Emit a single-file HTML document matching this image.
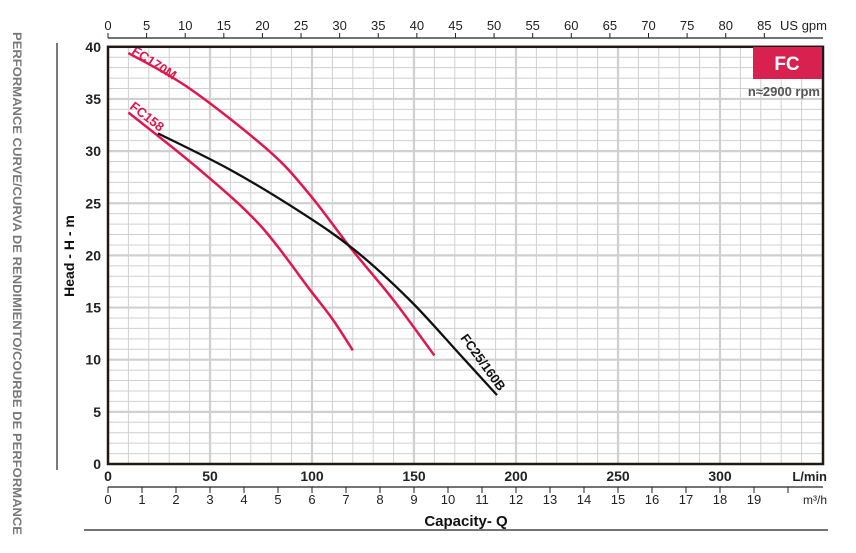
<!DOCTYPE html>
<html><head><meta charset="utf-8"><style>
html,body{margin:0;padding:0;background:#fff;}
svg{display:block;font-family:"Liberation Sans",sans-serif;}
</style></head><body>
<svg id="chart" width="856" height="553" viewBox="0 0 856 553">
<g id="grid"></g>
<g id="curves"></g>
<g id="axes"></g>
<text x="0" y="0" transform="translate(13,32) rotate(90)" font-size="11.5" font-weight="bold" fill="#777" textLength="503" lengthAdjust="spacingAndGlyphs">PERFORMANCE CURVE/CURVA DE RENDIMIENTO/COURBE DE PERFORMANCE</text>
<line x1="57" y1="43" x2="57" y2="470" stroke="#222" stroke-width="1.2"/>
<text transform="translate(74,256) rotate(-90)" text-anchor="middle" font-size="14" font-weight="bold" fill="#111">Head - H - m</text>
<text x="466" y="526" text-anchor="middle" font-size="15" font-weight="bold" fill="#111">Capacity- Q</text>
<line x1="84" y1="530" x2="828" y2="530" stroke="#222" stroke-width="1.2"/>
<rect x="753" y="47" width="69" height="32" fill="#d8214f"/>
<text x="787" y="70" text-anchor="middle" font-size="19" font-weight="bold" fill="#fff">FC</text>
<text x="820" y="96" text-anchor="end" font-size="13" font-weight="bold" fill="#555">n≈2900 rpm</text>
</svg>
<script>
const yTicks=[0,5,10,15,20,25,30,35,40];
const lminTicks=[50,100,150,200,250,300];
const gpmTicks=[0,5,10,15,20,25,30,35,40,45,50,55,60,65,70,75,80,85];
const m3hTicks=[0,1,2,3,4,5,6,7,8,9,10,11,12,13,14,15,16,17,18,19];
const fc170mQ=[10,40,79,99,119,140,160];
const fc170mH=[39.4,36.0,30.0,25.8,20.7,15.7,10.4];
const fc158Q=[10,45,74.5,99,110,120];
const fc158H=[33.7,28.2,22.9,16.7,13.9,10.9];
const fc25Q=[24.5,60,94,121,148,172.5,190.7];
const fc25H=[31.7,28.2,24.2,20.5,15.7,10.5,6.6];

const NS="http://www.w3.org/2000/svg";
const L=108,R=823,B=464;
function X(q){return L+q*2.04;}
function Y(h){return B-h*10.43;}
function mk(tag,attrs,parent,txt){const e=document.createElementNS(NS,tag);for(const k in attrs)e.setAttribute(k,attrs[k]);if(txt!==undefined)e.textContent=txt;parent.appendChild(e);return e;}
const grid=document.getElementById('grid'),axes=document.getElementById('axes'),curves=document.getElementById('curves');
const T=Y(40);
for(let q=10;q<350;q+=10){
  const l=mk('line',{x1:X(q),x2:X(q),y1:T,y2:B,stroke:'#d0d0d0','stroke-width':q%50===0?2.2:1},grid);
  
  
}
for(let h=1;h<40;h++){
  const l=mk('line',{x1:L,x2:R,y1:Y(h),y2:Y(h),stroke:'#d0d0d0','stroke-width':h%5===0?2.2:1},grid);
  
  
}
const fr=mk('rect',{x:L,y:T,width:R-L,height:B-T,fill:'none',stroke:'#231815','stroke-width':2.5},axes);


yTicks.forEach(h=>{
  const t=mk('text',{x:101,y:Y(h)+5,'text-anchor':'end','font-size':14,'font-weight':'bold',fill:'#222'},axes,h);
  
  
});
const z=mk('text',{x:L,y:481,'text-anchor':'middle','font-size':14,'font-weight':'bold',fill:'#222'},axes,'0');


lminTicks.forEach(q=>{
  const t=mk('text',{x:X(q),y:481,'text-anchor':'middle','font-size':14,'font-weight':'bold',fill:'#222'},axes,q);
  
  
});
const lu=mk('text',{x:827,y:481,'text-anchor':'end','font-size':13,'font-weight':'bold',fill:'#222'},axes,'L/min');


// m3/h axis
const ml=mk('line',{x1:L,x2:R,y1:487,y2:487,stroke:'#222','stroke-width':1.2},axes);


m3hTicks.concat([20]).forEach(m=>{
  const tk=mk('line',{x1:X(m*16.667),x2:X(m*16.667),y1:487,y2:493,stroke:'#222','stroke-width':1},axes);
  
  
});
m3hTicks.forEach(m=>{
  const t=mk('text',{x:X(m*16.667),y:504,'text-anchor':'middle','font-size':13,fill:'#222'},axes,m);
  
  
});
const mu=mk('text',{x:827,y:504,'text-anchor':'end','font-size':12,fill:'#222'},axes,'m³/h');


// gpm axis
const gl=mk('line',{x1:L,x2:R,y1:38,y2:38,stroke:'#222','stroke-width':1.2},axes);


gpmTicks.forEach(g=>{
  const x=X(g*3.785);
  const tk=mk('line',{x1:x,x2:x,y1:33,y2:38,stroke:'#222','stroke-width':1},axes);
  
  
  const t=mk('text',{x:x,y:30,'text-anchor':'middle','font-size':13,fill:'#222'},axes,g);
  
  
});
const gu=mk('text',{x:827,y:30,'text-anchor':'end','font-size':13,fill:'#222'},axes,'US gpm');


function path(Q,H){
  const p=Q.map((q,i)=>[X(q),Y(H[i])]);
  let d='M'+p[0][0]+','+p[0][1];
  for(let i=0;i<p.length-1;i++){
    const p0=p[i-1]||p[i],p1=p[i],p2=p[i+1],p3=p[i+2]||p2;
    d+=' C'+(p1[0]+(p2[0]-p0[0])/6)+','+(p1[1]+(p2[1]-p0[1])/6)+' '+(p2[0]-(p3[0]-p1[0])/6)+','+(p2[1]-(p3[1]-p1[1])/6)+' '+p2[0]+','+p2[1];
  }
  return d;
}
const c1=mk('path',{d:path(fc170mQ,fc170mH),fill:'none',stroke:'#e0174f','stroke-width':2.5},curves);


const c2=mk('path',{d:path(fc158Q,fc158H),fill:'none',stroke:'#e0174f','stroke-width':2.5},curves);


const c3=mk('path',{d:path(fc25Q,fc25H),fill:'none',stroke:'#111','stroke-width':2.3},curves);


const l1=mk('text',{transform:'translate(131,53) rotate(33)','font-size':13,'font-weight':'bold',fill:'#e0174f'},curves,'FC170M');


const l2=mk('text',{transform:'translate(129,108) rotate(38)','font-size':13,'font-weight':'bold',fill:'#e0174f'},curves,'FC158');


const l3=mk('text',{transform:'translate(460,338) rotate(54)','font-size':13,'font-weight':'bold',fill:'#111'},curves,'FC25/160B');


</script>
</body></html>
